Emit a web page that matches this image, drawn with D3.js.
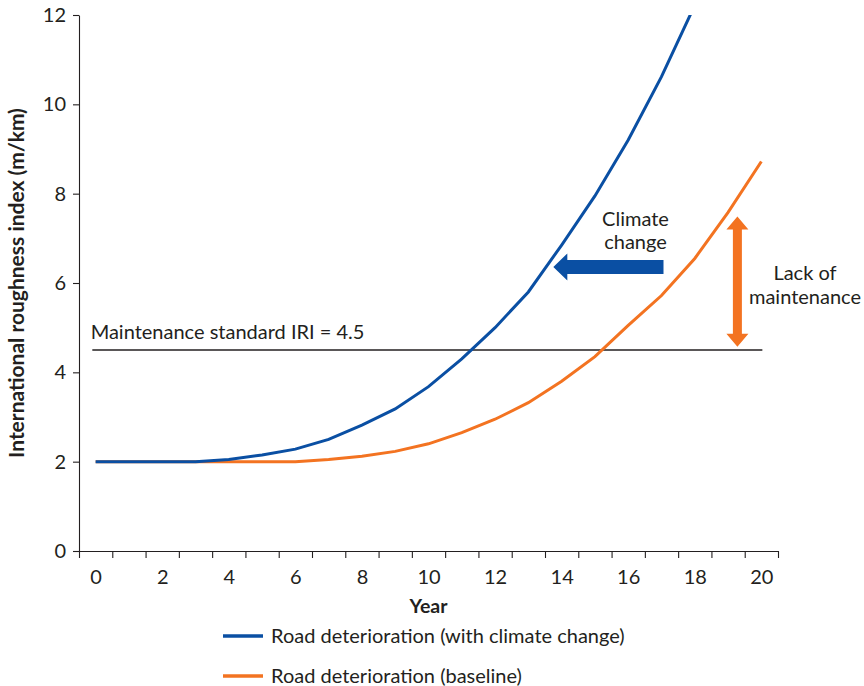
<!DOCTYPE html>
<html><head><meta charset="utf-8">
<script src="https://cdn.jsdelivr.net/npm/d3@7/dist/d3.min.js"></script>
<style>
body{margin:0;background:#fff}
text{font-family:Lato,'Open Sans',sans-serif;fill:#231f20}
</style>
</head><body>
<svg id="c" width="864" height="686"></svg>
<script>
// ---- data ----
const yearsClimate = [0,1,2,3,4,5,6,7,8,9,10,11,12,13,14,15,16,17,18];
const iriClimate   = [2,2,2,2,2.05,2.15,2.28,2.5,2.82,3.18,3.68,4.3,5.0,5.8,6.85,7.95,9.2,10.62,12.22];
const yearsBaseline = [0,1,2,3,4,5,6,7,8,9,10,11,12,13,14,15,16,17,18,19,20];
const iriBaseline   = [2,2,2,2,2,2,2,2.05,2.12,2.23,2.4,2.65,2.95,3.32,3.8,4.35,5.05,5.72,6.55,7.58,8.72];
const xTickPositions = [-0.5,0.5,1.5,2.5,3.5,4.5,5.5,6.5,7.5,8.5,9.5,10.5,11.5,12.5,13.5,14.5,15.5,16.5,17.5,18.5,19.5,20.5];
const xTickLabels = [0,2,4,6,8,10,12,14,16,18,20];
const yTickLabels = [0,2,4,6,8,10,12];
const maintenanceStandard = 4.5;
const seriesNames = ["Road deterioration (with climate change)","Road deterioration (baseline)"];
const colors = ["#0a4fa3","#f37321"];

const FS = 20;
const svg = d3.select("#c");
const x = d3.scaleLinear().domain([-0.5,20.5]).range([79,778]);
const y = d3.scaleLinear().domain([0,12]).range([551,15]);

// axes
const gy = svg.append("g").attr("transform",`translate(${x(-0.5)},0)`)
  .call(d3.axisLeft(y).tickValues(yTickLabels).tickSize(6).tickPadding(7).tickSizeOuter(0));
const gx = svg.append("g").attr("transform",`translate(0,${y(0)})`)
  .call(d3.axisBottom(x).tickValues(xTickPositions).tickFormat("").tickSize(7).tickSizeOuter(0));
const gxl = svg.append("g").attr("transform",`translate(0,${y(0)})`)
  .call(d3.axisBottom(x).tickValues(xTickLabels).tickSize(0).tickPadding(19));
gxl.select(".domain").remove();
[gy,gx,gxl].forEach(g=>{
  g.selectAll("path,line").attr("stroke","#231f20").attr("stroke-width",1.1);
  g.selectAll("text").attr("font-family","Lato,'Open Sans',sans-serif").attr("font-size",FS).attr("fill","#231f20");
});

// axis titles
svg.append("text").attr("transform",`translate(24,${(y(0)+y(12))/2}) rotate(-90)`)
  .attr("text-anchor","middle").attr("font-weight","bold").attr("font-size",21)
  .text("International roughness index (m/km)");
svg.append("text").attr("x",x(10)).attr("y",613).attr("text-anchor","middle")
  .attr("font-weight","bold").attr("font-size",19.5).text("Year");

// maintenance standard
svg.append("line").attr("x1",x(-0.1)).attr("x2",x(20.03))
  .attr("y1",y(maintenanceStandard)).attr("y2",y(maintenanceStandard))
  .attr("stroke","#231f20").attr("stroke-width",1.3);
svg.append("text").attr("x",x(-0.15)).attr("y",y(maintenanceStandard)-11)
  .attr("font-size",FS).text("Maintenance standard IRI = " + maintenanceStandard);

// clip
svg.append("clipPath").attr("id","clip").append("rect")
  .attr("x",x(-0.5)).attr("y",y(12)).attr("width",x(20.5)-x(-0.5)).attr("height",y(0)-y(12));

const line = d3.line().x(d=>x(d[0])).y(d=>y(d[1]));
const dataBaseline = yearsBaseline.map((t,i)=>[t,iriBaseline[i]]);
const dataClimate = yearsClimate.map((t,i)=>[t,iriClimate[i]]);
const gl = svg.append("g").attr("clip-path","url(#clip)");
gl.append("path").datum(dataBaseline).attr("d",line).attr("fill","none")
  .attr("stroke",colors[1]).attr("stroke-width",3);
gl.append("path").datum(dataClimate).attr("d",line).attr("fill","none")
  .attr("stroke",colors[0]).attr("stroke-width",3);

// climate change arrow (horizontal, pointing left)
function hArrow(x1,x2,yc,shaft,headW,headL){
  return `M${x1},${yc-shaft/2}L${x2+headL},${yc-shaft/2}L${x2+headL},${yc-headW/2}L${x2},${yc}`+
         `L${x2+headL},${yc+headW/2}L${x2+headL},${yc+shaft/2}L${x1},${yc+shaft/2}Z`;
}
svg.append("path").attr("d",hArrow(x(17.06),x(13.75),y(6.36),14,27,14)).attr("fill",colors[0]);
svg.append("text").attr("x",x(16.22)).attr("y",y(6.36)-41).attr("text-anchor","middle")
  .attr("font-size",FS).text("Climate");
svg.append("text").attr("x",x(16.22)).attr("y",y(6.36)-18).attr("text-anchor","middle")
  .attr("font-size",FS).text("change");

// lack of maintenance double arrow (vertical)
function vDoubleArrow(xc,yt,yb,shaft,headW,headL){
  return `M${xc},${yt}L${xc+headW/2},${yt+headL}L${xc+shaft/2},${yt+headL}L${xc+shaft/2},${yb-headL}`+
         `L${xc+headW/2},${yb-headL}L${xc},${yb}L${xc-headW/2},${yb-headL}L${xc-shaft/2},${yb-headL}`+
         `L${xc-shaft/2},${yt+headL}L${xc-headW/2},${yt+headL}Z`;
}
svg.append("path").attr("d",vDoubleArrow(x(19.28),y(7.49),y(4.57),9,22,13)).attr("fill",colors[1]);
svg.append("text").attr("x",805).attr("y",280).attr("text-anchor","middle").attr("font-size",FS).text("Lack of");
svg.append("text").attr("x",805).attr("y",304).attr("text-anchor","middle").attr("font-size",FS).text("maintenance");

// legend
const leg = svg.append("g");
seriesNames.forEach((n,i)=>{
  const yy = 636 + i*40;
  leg.append("line").attr("x1",223).attr("x2",263).attr("y1",yy).attr("y2",yy)
    .attr("stroke",colors[i]).attr("stroke-width",3.5);
  leg.append("text").attr("x",271).attr("y",yy).attr("dy","0.35em").attr("font-size",FS).text(n);
});
</script>
</body></html>
